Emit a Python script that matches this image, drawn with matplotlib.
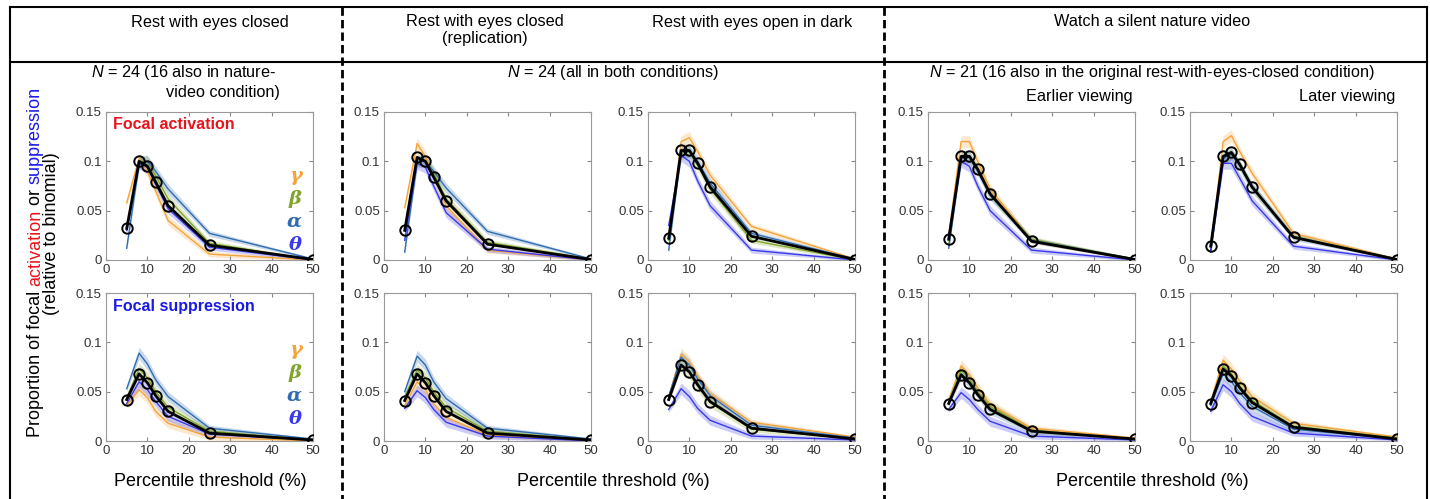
import matplotlib
matplotlib.use('Agg')
import matplotlib.pyplot as plt
from matplotlib.lines import Line2D

plt.rcParams['font.family'] = ['Liberation Sans', 'DejaVu Sans']
plt.rcParams['mathtext.fontset'] = 'custom'
plt.rcParams['mathtext.rm'] = 'Liberation Sans'
plt.rcParams['mathtext.it'] = 'Liberation Sans:italic'

W, H = 1430, 499

# percentile thresholds
thresholds = [5, 8, 10, 12, 15, 25, 50]
bands = ['gamma', 'beta', 'alpha', 'theta']
band_colors = {'gamma': '#F5A43A', 'beta': '#7FA52A', 'alpha': '#2F6CB0', 'theta': '#3A3AE8'}
band_sym = {'gamma': 'γ', 'beta': 'β', 'alpha': 'α', 'theta': 'θ'}
band_err = [0.003, 0.006, 0.006, 0.005, 0.005, 0.003, 0.001]

# --- Rest with eyes closed
rest_act = {
    'mean':  [0.032, 0.100, 0.095, 0.079, 0.055, 0.015, 0.0005],
    'gamma': [0.058, 0.103, 0.090, 0.070, 0.040, 0.006, 0.000],
    'beta':  [0.030, 0.100, 0.100, 0.085, 0.062, 0.017, 0.000],
    'alpha': [0.012, 0.098, 0.100, 0.090, 0.072, 0.027, 0.001],
    'theta': [0.030, 0.098, 0.094, 0.077, 0.052, 0.013, 0.000],
}
rest_sup = {
    'mean':  [0.042, 0.068, 0.059, 0.046, 0.030, 0.008, 0.001],
    'gamma': [0.036, 0.052, 0.044, 0.030, 0.018, 0.004, 0.000],
    'beta':  [0.044, 0.073, 0.064, 0.050, 0.034, 0.010, 0.001],
    'alpha': [0.053, 0.089, 0.078, 0.062, 0.045, 0.013, 0.002],
    'theta': [0.038, 0.060, 0.052, 0.040, 0.025, 0.007, 0.001],
}
# --- Rest with eyes closed (replication)
repl_act = {
    'mean':  [0.030, 0.104, 0.100, 0.084, 0.060, 0.016, 0.0005],
    'gamma': [0.053, 0.118, 0.105, 0.085, 0.055, 0.010, 0.000],
    'beta':  [0.030, 0.102, 0.100, 0.088, 0.062, 0.018, 0.001],
    'alpha': [0.008, 0.100, 0.100, 0.090, 0.073, 0.029, 0.001],
    'theta': [0.020, 0.098, 0.094, 0.075, 0.048, 0.011, 0.000],
}
repl_sup = {
    'mean':  [0.041, 0.068, 0.059, 0.046, 0.030, 0.008, 0.001],
    'gamma': [0.036, 0.060, 0.052, 0.038, 0.024, 0.006, 0.000],
    'beta':  [0.045, 0.072, 0.064, 0.050, 0.034, 0.010, 0.001],
    'alpha': [0.050, 0.086, 0.077, 0.060, 0.043, 0.013, 0.002],
    'theta': [0.033, 0.051, 0.044, 0.032, 0.019, 0.005, 0.000],
}
# --- Rest with eyes open in dark
dark_act = {
    'mean':  [0.022, 0.111, 0.111, 0.098, 0.074, 0.024, 0.0005],
    'gamma': [0.020, 0.120, 0.124, 0.110, 0.086, 0.034, 0.001],
    'beta':  [0.020, 0.108, 0.110, 0.096, 0.072, 0.020, 0.000],
    'alpha': [0.010, 0.110, 0.110, 0.100, 0.078, 0.027, 0.001],
    'theta': [0.035, 0.106, 0.100, 0.080, 0.055, 0.010, 0.000],
}
dark_sup = {
    'mean':  [0.042, 0.077, 0.070, 0.057, 0.040, 0.013, 0.002],
    'gamma': [0.045, 0.088, 0.080, 0.066, 0.048, 0.019, 0.004],
    'beta':  [0.043, 0.078, 0.070, 0.056, 0.039, 0.012, 0.002],
    'alpha': [0.045, 0.085, 0.077, 0.063, 0.046, 0.016, 0.003],
    'theta': [0.032, 0.053, 0.045, 0.033, 0.021, 0.005, 0.001],
}
# --- Nature video, earlier viewing
early_act = {
    'mean':  [0.021, 0.105, 0.105, 0.092, 0.067, 0.019, 0.0005],
    'gamma': [0.025, 0.120, 0.120, 0.100, 0.072, 0.020, 0.000],
    'beta':  [0.015, 0.104, 0.105, 0.092, 0.067, 0.021, 0.001],
    'alpha': [0.012, 0.103, 0.104, 0.090, 0.066, 0.020, 0.001],
    'theta': [0.025, 0.100, 0.095, 0.075, 0.050, 0.010, 0.000],
}
early_sup = {
    'mean':  [0.038, 0.067, 0.059, 0.047, 0.032, 0.010, 0.002],
    'gamma': [0.042, 0.076, 0.067, 0.054, 0.037, 0.013, 0.003],
    'beta':  [0.040, 0.072, 0.063, 0.050, 0.035, 0.011, 0.002],
    'alpha': [0.038, 0.068, 0.060, 0.048, 0.032, 0.010, 0.002],
    'theta': [0.032, 0.049, 0.042, 0.032, 0.020, 0.005, 0.001],
}
# --- Nature video, later viewing
late_act = {
    'mean':  [0.014, 0.105, 0.109, 0.097, 0.074, 0.023, 0.0005],
    'gamma': [0.010, 0.120, 0.126, 0.110, 0.088, 0.027, 0.001],
    'beta':  [0.010, 0.104, 0.108, 0.096, 0.073, 0.024, 0.001],
    'alpha': [0.008, 0.103, 0.107, 0.096, 0.074, 0.023, 0.001],
    'theta': [0.010, 0.098, 0.098, 0.083, 0.060, 0.014, 0.000],
}
late_sup = {
    'mean':  [0.038, 0.073, 0.066, 0.054, 0.039, 0.014, 0.002],
    'gamma': [0.040, 0.082, 0.073, 0.061, 0.045, 0.018, 0.004],
    'beta':  [0.039, 0.076, 0.068, 0.056, 0.041, 0.015, 0.003],
    'alpha': [0.036, 0.068, 0.060, 0.049, 0.035, 0.012, 0.002],
    'theta': [0.030, 0.057, 0.050, 0.038, 0.025, 0.008, 0.001],
}

columns = [(rest_act, rest_sup), (repl_act, repl_sup), (dark_act, dark_sup),
           (early_act, early_sup), (late_act, late_sup)]

fig = plt.figure(figsize=(W / 100, H / 100), dpi=100)


def fx(x):
    return x / W


def fy(y):
    return 1 - y / H


def box(x0, y0, x1, y1):
    return [fx(x0), fy(y1), fx(x1) - fx(x0), fy(y0) - fy(y1)]


def draw_panel(ax, d):
    for b in bands:
        lo = [v - e for v, e in zip(d[b], band_err)]
        hi = [v + e for v, e in zip(d[b], band_err)]
        ax.fill_between(thresholds, lo, hi, color=band_colors[b], alpha=0.25, lw=0)
        ax.plot(thresholds, d[b], color=band_colors[b], lw=1.0)
    ax.plot(thresholds, d['mean'], color='black', lw=2, marker='o', ms=7.5,
            mfc='none', mec='black', mew=1.4, zorder=5)
    ax.set_xlim(0, 50)
    ax.set_ylim(0, 0.15)
    ax.set_xticks([0, 10, 20, 30, 40, 50])
    ax.set_yticks([0, 0.05, 0.1, 0.15])
    ax.set_yticklabels(['0', '0.05', '0.1', '0.15'])
    ax.tick_params(direction='in', length=3, width=0.8, colors='#888888',
                   labelcolor='#333333', labelsize=9.5, top=True, right=True, pad=3)
    for s in ax.spines.values():
        s.set_color('#999999')
        s.set_linewidth(0.8)


lefts = [106, 384, 648, 928, 1190]
for left, (act, sup) in zip(lefts, columns):
    ax_t = fig.add_axes(box(left, 112, left + 207, 260))
    draw_panel(ax_t, act)
    ax_b = fig.add_axes(box(left, 293, left + 207, 441))
    draw_panel(ax_b, sup)

# band labels in first column
for y0 in (176, 350):
    for i, b in enumerate(bands):
        fig.text(fx(302), fy(y0 + i * 23), band_sym[b], color=band_colors[b],
                 fontsize=14, fontweight='bold', fontstyle='italic',
                 family='DejaVu Serif', ha='right', va='center')

fig.text(fx(113), fy(125), 'Focal activation', color='#E8141B', fontsize=11.5,
         fontweight='bold', ha='left', va='center')
fig.text(fx(113), fy(306), 'Focal suppression', color='#1A1AE6', fontsize=11.5,
         fontweight='bold', ha='left', va='center')

# frame lines
frame = dict(color='black', lw=1.5, transform=fig.transFigure)
fig.add_artist(Line2D([fx(10), fx(10)], [fy(7), 0], **frame))
fig.add_artist(Line2D([fx(1427), fx(1427)], [fy(7), 0], **frame))
fig.add_artist(Line2D([fx(10), fx(1427)], [fy(7), fy(7)], **frame))
fig.add_artist(Line2D([fx(10), fx(1427)], [fy(62), fy(62)], **frame))
for xd in (342, 884):
    fig.add_artist(Line2D([fx(xd), fx(xd)], [fy(7), 0], color='black', lw=2,
                          ls=(0, (3, 1.5)), transform=fig.transFigure))

# headers
hdr = dict(fontsize=11.7, ha='center', va='center')
fig.text(fx(210), fy(22), 'Rest with eyes closed', **hdr)
fig.text(fx(485), fy(30), 'Rest with eyes closed\n(replication)', linespacing=1.1, **hdr)
fig.text(fx(752), fy(22), 'Rest with eyes open in dark', **hdr)
fig.text(fx(1152), fy(22), 'Watch a silent nature video', **hdr)

fig.text(fx(184), fy(72), r'$N$ = 24 (16 also in nature-', **hdr)
fig.text(fx(223), fy(92), 'video condition)', **hdr)
fig.text(fx(613), fy(72), r'$N$ = 24 (all in both conditions)', **hdr)
fig.text(fx(1152), fy(72), r'$N$ = 21 (16 also in the original rest-with-eyes-closed condition)', **hdr)
fig.text(fx(1133), fy(97), 'Earlier viewing', fontsize=11.7, ha='right', va='center')
fig.text(fx(1395), fy(97), 'Later viewing', fontsize=11.7, ha='right', va='center')

# x labels
for xc in (210, 613, 1152):
    fig.text(fx(xc), fy(482), 'Percentile threshold (%)', fontsize=13, ha='center', va='center')

# y label, with coloured words
renderer = fig.canvas.get_renderer()
parts = [('Proportion of focal ', 'black'), ('activation', '#E8141B'),
         (' or ', 'black'), ('suppression', '#1A1AE6')]
y = fy(437)
for s, c in parts:
    t = fig.text(fx(40), y, s, color=c, fontsize=13, rotation=90,
                 rotation_mode='anchor', ha='left', va='baseline')
    y += t.get_window_extent(renderer).height / (H)
fig.text(fx(56), fy(234), '(relative to binomial)', fontsize=13, rotation=90,
         rotation_mode='anchor', ha='center', va='baseline')

fig.savefig('out.png', dpi=100)
